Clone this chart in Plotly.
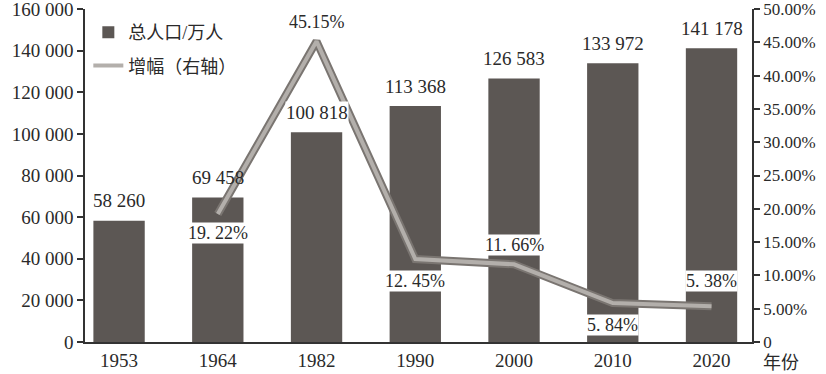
import plotly.graph_objects as go

years = ["1953", "1964", "1982", "1990", "2000", "2010", "2020"]
population = [58260, 69458, 100818, 113368, 126583, 133972, 141178]
pop_labels = ["58 260", "69 458", "100 818", "113 368", "126 583", "133 972", "141 178"]

growth_years = ["1964", "1982", "1990", "2000", "2010", "2020"]
growth = [19.22, 45.15, 12.45, 11.66, 5.84, 5.38]
growth_labels = ["19. 22%", "45.15%", "12. 45%", "11. 66%", "5. 84%", "5. 38%"]

left_ticks = [0, 20000, 40000, 60000, 80000, 100000, 120000, 140000, 160000]
left_ticktext = ["0", "20 000", "40 000", "60 000", "80 000", "100 000", "120 000", "140 000", "160 000"]
right_ticks = [0, 5, 10, 15, 20, 25, 30, 35, 40, 45, 50]
right_ticktext = ["0", "5.00%", "10.00%", "15.00%", "20.00%", "25.00%", "30.00%",
                  "35.00%", "40.00%", "45.00%", "50.00%"]

# label offsets (style)
pct_shift = [-19, 19, -22, 19, -22, 25]

SERIF = "Liberation Serif, Times New Roman, Noto Sans CJK SC, serif"
TXT = "#2a2a2a"

fig = go.Figure()
fig.add_trace(go.Bar(
    x=years, y=population, name="总人口/万人", legendgroup="pop",
    marker=dict(color="#5c5754", line=dict(width=0)),
    width=0.52,
))
fig.add_trace(go.Scatter(
    x=growth_years, y=growth, yaxis="y2", mode="lines", legendgroup="gr",
    line=dict(color="#7a7571", width=8), showlegend=False, hoverinfo="skip",
))
fig.add_trace(go.Scatter(
    x=growth_years, y=growth, yaxis="y2", mode="lines", name="增幅（右轴）",
    legendgroup="gr",
    line=dict(color="#b3afab", width=4),
))

annotations = []
for yr, v, t in zip(years, population, pop_labels):
    annotations.append(dict(
        x=years.index(yr), y=v, xref="x", yref="y", text=t, showarrow=False,
        yanchor="middle", yshift=20,
        font=dict(family=SERIF, size=19, color=TXT),
        bgcolor="white" if v == 100818 else "rgba(0,0,0,0)", borderpad=0,
    ))
for yr, v, t, s in zip(growth_years, growth, growth_labels, pct_shift):
    annotations.append(dict(
        x=years.index(yr), y=v, xref="x", yref="y2", text=t, showarrow=False,
        yanchor="middle", yshift=s,
        font=dict(family=SERIF, size=18, color=TXT),
        bgcolor="white", borderpad=0,
    ))
annotations.append(dict(
    x=1.013, y=-0.027, xref="paper", yref="paper", text="年份", showarrow=False,
    xanchor="left", yanchor="top",
    font=dict(family=SERIF, size=18, color=TXT),
))

fig.update_layout(
    width=826, height=374,
    margin=dict(l=85, r=74, t=9, b=32),
    paper_bgcolor="white", plot_bgcolor="white",
    font=dict(family=SERIF, size=19, color=TXT),
    showlegend=True,
    legend=dict(x=0.005, y=0.985, xanchor="left", yanchor="top",
                bgcolor="rgba(0,0,0,0)", font=dict(family=SERIF, size=18, color=TXT),
                tracegroupgap=7),
    xaxis=dict(
        type="category", range=[-0.345, 6.41], automargin=False,
        showline=True, linecolor="#333", linewidth=1.5,
        ticks="", showgrid=False, tickfont=dict(family=SERIF, size=19, color=TXT),
    ),
    yaxis=dict(
        range=[0, 160000], tickvals=left_ticks, ticktext=left_ticktext,
        automargin=False,
        showline=True, linecolor="#333", linewidth=1.5,
        ticks="outside", ticklen=6, tickcolor="#333", tickwidth=1.5,
        showgrid=False, zeroline=False, ticklabeloverflow="allow",
        tickfont=dict(family=SERIF, size=19, color=TXT),
    ),
    yaxis2=dict(
        range=[0, 50], tickvals=right_ticks, ticktext=right_ticktext,
        overlaying="y", side="right", automargin=False,
        showline=True, linecolor="#333", linewidth=1.5,
        ticks="outside", ticklen=6, tickcolor="#333", tickwidth=1.5,
        showgrid=False, zeroline=False, ticklabeloverflow="allow",
        tickfont=dict(family=SERIF, size=17, color=TXT),
    ),
    annotations=annotations,
)

fig.write_html("out.html", config={"displayModeBar": False},
               post_script="document.body.style.margin='0';")
